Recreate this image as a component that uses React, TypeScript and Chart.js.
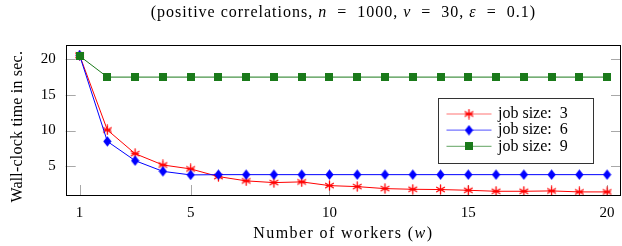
import React, { useEffect, useRef } from "react";
import { Chart, registerables } from "chart.js";

Chart.register(...registerables);

// ---- data ----
const workers = [1, 2, 3, 4, 5, 6, 7, 8, 9, 10, 11, 12, 13, 14, 15, 16, 17, 18, 19, 20];
const jobSize3 = [20.5, 10.07, 6.77, 5.19, 4.64, 3.57, 2.97, 2.73, 2.83, 2.31, 2.17, 1.89, 1.8, 1.76, 1.66, 1.52, 1.52, 1.57, 1.43, 1.43];
const jobSize6 = [20.5, 8.48, 5.79, 4.3, 3.8, 3.84, 3.84, 3.84, 3.84, 3.84, 3.84, 3.84, 3.84, 3.84, 3.84, 3.84, 3.84, 3.84, 3.84, 3.84];
const jobSize9 = [20.4, 17.45, 17.45, 17.45, 17.45, 17.45, 17.45, 17.45, 17.45, 17.45, 17.45, 17.45, 17.45, 17.45, 17.45, 17.45, 17.45, 17.45, 17.45, 17.45];
const seriesLabels = ["job size:  3", "job size:  6", "job size:  9"];
const xTicks = [1, 5, 10, 15, 20];
const yTicks = [5, 10, 15, 20];
const titleParts: [string, boolean][] = [
  ["(positive correlations, ", false],
  ["n", true],
  ["  =  1000, ", false],
  ["v", true],
  ["  =  30, ", false],
  ["ε", true],
  ["  =  0.1)", false],
];
const xLabelParts: [string, boolean][] = [
  ["Number of workers (", false],
  ["w", true],
  [")", false],
];
const yLabel = "Wall-clock time in sec.";

const FAMILY = "'Liberation Serif', serif";
const FS = 16;
const TFS = 15;
const RED = "#ff0000";
const BLUE = "#0000ff";
const GREEN = "#1a7a1a";

function mkAsterisk(color: string) {
  const c = document.createElement("canvas");
  c.width = 11;
  c.height = 11;
  const g = c.getContext("2d")!;
  g.strokeStyle = color;
  g.lineWidth = 1.3;
  g.lineCap = "round";
  const r = 4.5;
  for (let k = 0; k < 3; k++) {
    const a = Math.PI / 2 + (k * Math.PI) / 3;
    g.beginPath();
    g.moveTo(5.5 + r * Math.cos(a), 5.5 + r * Math.sin(a));
    g.lineTo(5.5 - r * Math.cos(a), 5.5 - r * Math.sin(a));
    g.stroke();
  }
  g.lineWidth = 1;
  g.beginPath();
  g.moveTo(5.5 - 3.5, 5.5);
  g.lineTo(5.5 + 3.5, 5.5);
  g.stroke();
  return c;
}
function mkDiamond(color: string) {
  const c = document.createElement("canvas");
  c.width = 9;
  c.height = 11;
  const g = c.getContext("2d")!;
  g.fillStyle = color;
  g.beginPath();
  g.moveTo(4.5, 0.3);
  g.lineTo(8.6, 5.5);
  g.lineTo(4.5, 10.7);
  g.lineTo(0.4, 5.5);
  g.closePath();
  g.fill();
  return c;
}
function mkSquare(color: string) {
  const c = document.createElement("canvas");
  c.width = 8;
  c.height = 8;
  const g = c.getContext("2d")!;
  g.fillStyle = color;
  g.fillRect(0, 0, 8, 8);
  return c;
}

function setSpacing(ctx: any, px: number) {
  if ("letterSpacing" in ctx) ctx.letterSpacing = `${px}px`;
}

function drawParts(ctx: CanvasRenderingContext2D, parts: [string, boolean][], cx: number, cy: number, sp: number) {
  const fontN = `${FS}px ${FAMILY}`;
  const fontI = `italic ${FS}px ${FAMILY}`;
  setSpacing(ctx, sp);
  let total = 0;
  const widths = parts.map(([t, it]) => {
    ctx.font = it ? fontI : fontN;
    const w = ctx.measureText(t).width;
    total += w;
    return w;
  });
  let x = cx - total / 2;
  ctx.textBaseline = "middle";
  ctx.textAlign = "left";
  parts.forEach(([t, it], i) => {
    ctx.font = it ? fontI : fontN;
    ctx.fillText(t, x, cy);
    x += widths[i];
  });
  setSpacing(ctx, 0);
}

const decoPlugin = {
  id: "deco",
  beforeDatasetsDraw(chart: any) {
    const { ctx, chartArea: a, scales } = chart;
    ctx.save();
    ctx.strokeStyle = "#a8a8a8";
    ctx.lineWidth = 1;
    const tl = 10;
    xTicks.forEach((v) => {
      const px = Math.round(scales.x.getPixelForValue(v)) + 0.5;
      ctx.beginPath();
      ctx.moveTo(px, a.bottom);
      ctx.lineTo(px, a.bottom - tl);
      ctx.stroke();
    });
    yTicks.forEach((v) => {
      const py = Math.round(scales.y.getPixelForValue(v)) + 0.5;
      ctx.beginPath();
      ctx.moveTo(a.left, py);
      ctx.lineTo(a.left + tl, py);
      ctx.moveTo(a.right, py);
      ctx.lineTo(a.right - tl, py);
      ctx.stroke();
    });
    ctx.restore();
  },
  afterDraw(chart: any) {
    const { ctx, chartArea: a, scales } = chart;
    ctx.save();
    // frame
    ctx.strokeStyle = "#000";
    ctx.lineWidth = 1;
    ctx.strokeRect(Math.round(a.left) + 0.5, Math.round(a.top) + 0.5, Math.round(a.right) - Math.round(a.left) - 1, Math.round(a.bottom) - Math.round(a.top));
    ctx.fillStyle = "#000";
    // x tick labels
    ctx.font = `${TFS}px ${FAMILY}`;
    ctx.textAlign = "center";
    ctx.textBaseline = "middle";
    xTicks.forEach((v) => {
      ctx.fillText(String(v), scales.x.getPixelForValue(v), a.bottom + 18);
    });
    const cx = (a.left + a.right) / 2;
    drawParts(ctx, titleParts, cx, 13, 1.0);
    drawParts(ctx, xLabelParts, cx, 234, 1.4);
    // y label
    ctx.save();
    ctx.translate(18, (a.top + a.bottom) / 2 + 7);
    ctx.rotate(-Math.PI / 2);
    ctx.font = `${FS}px ${FAMILY}`;
    setSpacing(ctx, 0.2);
    ctx.textAlign = "center";
    ctx.textBaseline = "middle";
    ctx.fillText(yLabel, 0, 0);
    setSpacing(ctx, 0);
    ctx.restore();
    // legend
    const bx = a.right - 183;
    const by = a.top + 53.5;
    const bw = 155;
    const bh = 65;
    ctx.fillStyle = "#fff";
    ctx.fillRect(bx, by, bw, bh);
    ctx.strokeStyle = "#333";
    ctx.lineWidth = 1;
    ctx.strokeRect(Math.round(bx) + 0.5, Math.round(by) + 0.5, bw, bh);
    chart.data.datasets.forEach((ds: any, i: number) => {
      const ry = by + 16 + i * 16.2;
      ctx.globalAlpha = 0.55;
      ctx.strokeStyle = ds.borderColor;
      ctx.lineWidth = 1.2;
      ctx.beginPath();
      ctx.moveTo(bx + 8.5, ry);
      ctx.lineTo(bx + 53.5, ry);
      ctx.stroke();
      ctx.globalAlpha = 1;
      const img = ds.pointStyle as HTMLCanvasElement;
      ctx.drawImage(img, bx + 31 - img.width / 2, ry - img.height / 2);
      ctx.fillStyle = "#000";
      ctx.font = `${FS}px ${FAMILY}`;
      setSpacing(ctx, 0);
      ctx.textAlign = "left";
      ctx.textBaseline = "middle";
      ctx.fillText(ds.label, bx + 60, ry);
    });
    ctx.restore();
  },
};

export default function App() {
  const ref = useRef<HTMLCanvasElement>(null);
  useEffect(() => {
    const canvas = ref.current!;
    const mk = (vals: number[]) => workers.map((w, i) => ({ x: w, y: vals[i] }));
    const chart = new Chart(canvas, {
      type: "line",
      data: {
        datasets: [
          {
            label: seriesLabels[0],
            data: mk(jobSize3),
            borderColor: RED,
            backgroundColor: RED,
            borderWidth: 1,
            pointStyle: mkAsterisk(RED) as any,
            pointRadius: 5,
            tension: 0,
            order: 3,
          },
          {
            label: seriesLabels[1],
            data: mk(jobSize6),
            borderColor: BLUE,
            backgroundColor: BLUE,
            borderWidth: 1,
            pointStyle: mkDiamond(BLUE) as any,
            pointRadius: 5,
            tension: 0,
            order: 2,
          },
          {
            label: seriesLabels[2],
            data: mk(jobSize9),
            borderColor: GREEN,
            backgroundColor: GREEN,
            borderWidth: 1,
            pointStyle: mkSquare(GREEN) as any,
            pointRadius: 5,
            tension: 0,
            order: 1,
          },
        ],
      },
      options: {
        animation: false,
        responsive: false,
        maintainAspectRatio: false,
        layout: { autoPadding: false, padding: { top: 44.5, right: 1, left: 0, bottom: 0 } },
        plugins: {
          legend: { display: false },
          title: { display: false },
          tooltip: { enabled: false },
        },
        scales: {
          x: {
            type: "linear",
            min: 0.5,
            max: 20.5,
            afterBuildTicks: (s: any) => {
              s.ticks = xTicks.map((v) => ({ value: v }));
            },
            afterFit: (s: any) => {
              s.height = 51;
              s.paddingLeft = 0;
              s.paddingRight = 0;
            },
            grid: { display: false, drawTicks: false },
            border: { display: false },
            ticks: { display: false },
          },
          y: {
            type: "linear",
            min: 1,
            max: 22,
            afterBuildTicks: (s: any) => {
              s.ticks = yTicks.map((v) => ({ value: v }));
            },
            afterFit: (s: any) => {
              s.width = 65.7;
              s.paddingTop = 0;
              s.paddingBottom = 0;
            },
            grid: { display: false, drawTicks: false },
            border: { display: false },
            ticks: {
              padding: 10,
              color: "#000",
              font: { family: FAMILY, size: TFS },
              autoSkip: false,
            },
          },
        },
      },
      plugins: [decoPlugin],
    });
    return () => chart.destroy();
  }, []);
  return (
    <div style={{ position: "fixed", left: 0, top: 0, width: 622, height: 246 }}>
      <canvas ref={ref} width={622} height={246} style={{ display: "block", width: 622, height: 246 }} />
    </div>
  );
}
